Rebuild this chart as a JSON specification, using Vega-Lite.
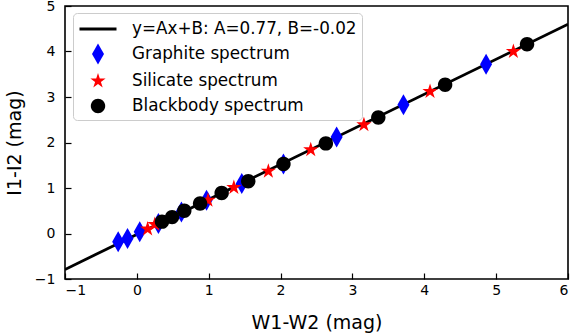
{
  "$schema": "https://vega.github.io/schema/vega-lite/v6.json",
  "width": 503,
  "height": 273,
  "autosize": {"type": "none"},
  "padding": {"left": 65, "top": 6, "right": 4, "bottom": 54},
  "background": "white",
  "config": {
    "font": "DejaVu Sans",
    "view": {"stroke": "black", "strokeWidth": 1.6},
    "axis": {
      "domain": false,
      "grid": false,
      "tickColor": "black",
      "tickSize": -6,
      "tickWidth": 1.2,
      "labelColor": "black",
      "labelFont": "DejaVu Sans",
      "labelFontSize": 14,
      "titleColor": "black",
      "titleFont": "DejaVu Sans",
      "titleFontSize": 19,
      "titleFontWeight": "normal"
    }
  },
  "datasets": {
    "fit": [
      {"x": -1, "y": -0.79},
      {"x": 6, "y": 4.6}
    ],
    "pts": [
      {"series": "Graphite spectrum", "x": -0.26, "y": -0.18},
      {"series": "Graphite spectrum", "x": -0.13, "y": -0.11},
      {"series": "Graphite spectrum", "x": 0.04, "y": 0.04},
      {"series": "Graphite spectrum", "x": 0.3, "y": 0.22},
      {"series": "Graphite spectrum", "x": 0.62, "y": 0.47},
      {"series": "Graphite spectrum", "x": 0.97, "y": 0.73},
      {"series": "Graphite spectrum", "x": 1.46, "y": 1.1},
      {"series": "Graphite spectrum", "x": 2.04, "y": 1.53},
      {"series": "Graphite spectrum", "x": 2.78, "y": 2.12},
      {"series": "Graphite spectrum", "x": 3.71, "y": 2.83},
      {"series": "Graphite spectrum", "x": 4.86, "y": 3.72},
      {"series": "Silicate spectrum", "x": 0.15, "y": 0.1},
      {"series": "Silicate spectrum", "x": 0.25, "y": 0.2},
      {"series": "Silicate spectrum", "x": 0.99, "y": 0.73},
      {"series": "Silicate spectrum", "x": 1.35, "y": 1.01},
      {"series": "Silicate spectrum", "x": 1.83, "y": 1.37},
      {"series": "Silicate spectrum", "x": 2.42, "y": 1.84},
      {"series": "Silicate spectrum", "x": 3.16, "y": 2.39},
      {"series": "Silicate spectrum", "x": 4.08, "y": 3.12},
      {"series": "Silicate spectrum", "x": 5.24, "y": 4.0},
      {"series": "Blackbody spectrum", "x": 0.35, "y": 0.26},
      {"series": "Blackbody spectrum", "x": 0.49, "y": 0.36},
      {"series": "Blackbody spectrum", "x": 0.66, "y": 0.5},
      {"series": "Blackbody spectrum", "x": 0.88, "y": 0.66},
      {"series": "Blackbody spectrum", "x": 1.18, "y": 0.89},
      {"series": "Blackbody spectrum", "x": 1.55, "y": 1.15},
      {"series": "Blackbody spectrum", "x": 2.04, "y": 1.53},
      {"series": "Blackbody spectrum", "x": 2.63, "y": 1.98},
      {"series": "Blackbody spectrum", "x": 3.36, "y": 2.55},
      {"series": "Blackbody spectrum", "x": 4.29, "y": 3.27},
      {"series": "Blackbody spectrum", "x": 5.43, "y": 4.16}
    ]
  },
  "encoding": {
    "x": {
      "field": "x", "type": "quantitative",
      "scale": {"domain": [-1, 6], "nice": false, "zero": false},
      "axis": {"title": "W1-W2 (mag)", "values": [-1, 0, 1, 2, 3, 4, 5, 6], "labelPadding": 10, "titlePadding": 16}
    },
    "y": {
      "field": "y", "type": "quantitative",
      "scale": {"domain": [-1, 5], "nice": false, "zero": false},
      "axis": {"title": "I1-I2 (mag)", "values": [-1, 0, 1, 2, 3, 4, 5], "labelPadding": 16, "titlePadding": 10}
    }
  },
  "layer": [
    {
      "data": {"name": "fit"},
      "mark": {"type": "line", "color": "black", "strokeWidth": 2.8, "clip": true},
      "encoding": {}
    },
    {
      "data": {"name": "pts"},
      "mark": {"type": "point", "filled": true, "opacity": 1, "size": 400},
      "encoding": {
        "color": {"field": "series", "type": "nominal",
          "scale": {"domain": ["y=Ax+B: A=0.77, B=-0.02", "Graphite spectrum", "Silicate spectrum", "Blackbody spectrum"], "range": ["black", "#0000ff", "#ff0000", "black"]},
          "legend": {
            "title": null,
            "orient": "none",
            "legendX": 8,
            "legendY": 7,
            "fillColor": "rgba(255,255,255,0.8)",
            "strokeColor": "#cccccc",
            "cornerRadius": 4,
            "padding": 5,
            "symbolSize": 400,
            "symbolOffset": 9,
            "labelOffset": 23,
            "rowPadding": 5,
            "labelFont": "DejaVu Sans",
            "labelFontSize": 16.8,
            "labelColor": "black",
            "labelLimit": 400
          }},
        "shape": {"field": "series", "type": "nominal",
          "scale": {"domain": ["y=Ax+B: A=0.77, B=-0.02", "Graphite spectrum", "Silicate spectrum", "Blackbody spectrum"],
            "range": [
              "M-1.85,-0.14L1.85,-0.14L1.85,0.14L-1.85,0.14Z",
              "M0,-1.05L0.6,0L0,1.05L-0.6,0Z",
              "M0,-0.8L0.179,-0.247L0.76,-0.247L0.29,0.094L0.47,0.647L0,0.305L-0.47,0.647L-0.29,0.094L-0.76,-0.247L-0.179,-0.247Z",
              "M-0.72,0A0.72,0.72,0,1,0,0.72,0A0.72,0.72,0,1,0,-0.72,0Z"
            ]}}
      }
    }
  ]
}
